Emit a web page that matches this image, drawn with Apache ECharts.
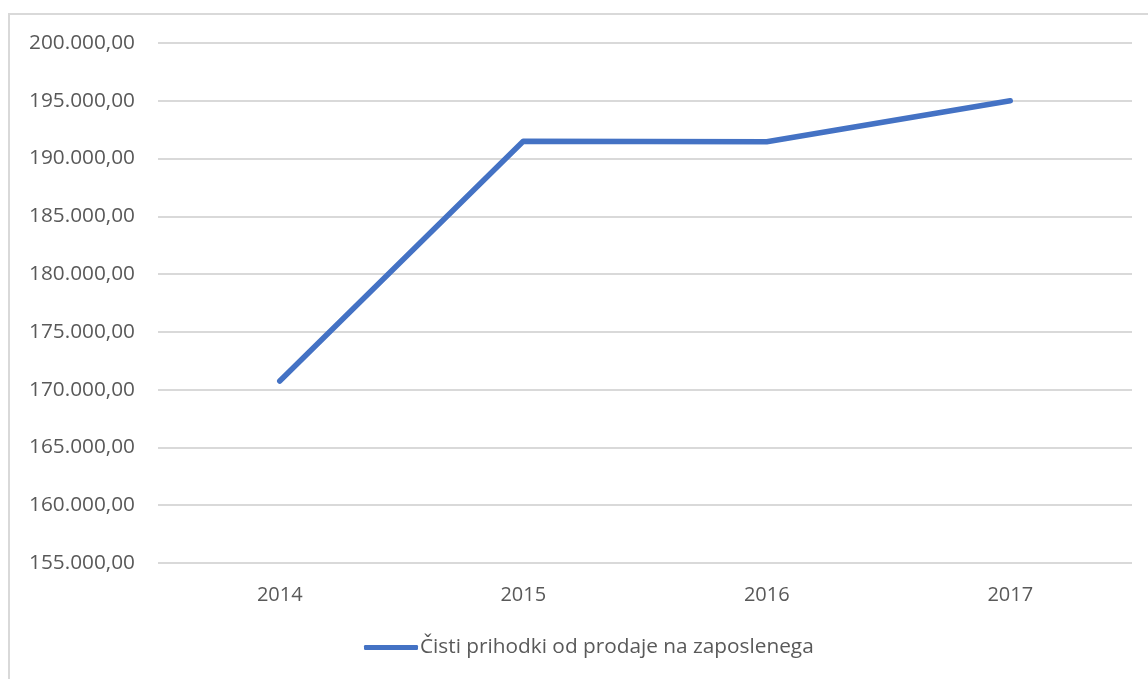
<!DOCTYPE html>
<html>
<head>
<meta charset="utf-8">
<script src="https://cdn.jsdelivr.net/npm/echarts@6/dist/echarts.min.js"></script>
<style>
  html, body { margin: 0; padding: 0; background: #ffffff; }
  #frame { position: absolute; left: 8px; top: 13px; width: 1160px; height: 700px; border: 2px solid #d9d9d9; box-sizing: border-box; }
  #chart { position: absolute; left: 0; top: 0; width: 1148px; height: 679px; }
</style>
</head>
<body>
<div id="frame"></div>
<div id="chart"></div>
<script>
// Net sales revenue per employee, by year
const years = ['2014', '2015', '2016', '2017'];
const revenuePerEmployee = [170750, 191500, 191450, 195000];
const seriesName = 'Čisti prihodki od prodaje na zaposlenega';

const fontFamily = '"Open Sans", Lato, "Liberation Sans", sans-serif';
const formatNumber = v => {
  const parts = Number(v).toFixed(2).split('.');
  return parts[0].replace(/\B(?=(\d{3})+(?!\d))/g, '.') + ',' + parts[1];
};

const chart = echarts.init(document.getElementById('chart'), null, { renderer: 'canvas' });
chart.setOption({
  animation: false,
  backgroundColor: 'transparent',
  grid: { left: 158, right: 16, top: 43, bottom: 116, containLabel: false },
  xAxis: {
    type: 'category',
    data: years,
    boundaryGap: true,
    axisLine: { show: false },
    axisTick: { show: false },
    axisLabel: { color: '#595959', fontSize: 20, fontFamily, margin: 22 }
  },
  yAxis: {
    type: 'value',
    min: 155000,
    max: 200000,
    interval: 5000,
    axisLine: { show: false },
    axisTick: { show: false },
    splitLine: { lineStyle: { color: '#d9d9d9', width: 2 } },
    axisLabel: { color: '#595959', fontSize: 20.8, fontFamily, margin: 23, formatter: formatNumber }
  },
  legend: {
    bottom: 16,
    left: 359,
    itemWidth: 54,
    itemHeight: 5,
    itemGap: 10,
    textStyle: { color: '#595959', fontSize: 20.8, fontFamily, padding: [0, 0, 0, -3] },
    data: [{ name: seriesName, icon: 'roundRect' }]
  },
  series: [{
    name: seriesName,
    type: 'line',
    data: revenuePerEmployee,
    symbol: 'none',
    lineStyle: { color: '#4472c4', width: 5.5, cap: 'round', join: 'round' },
    itemStyle: { color: '#4472c4' }
  }]
});
</script>
</body>
</html>
